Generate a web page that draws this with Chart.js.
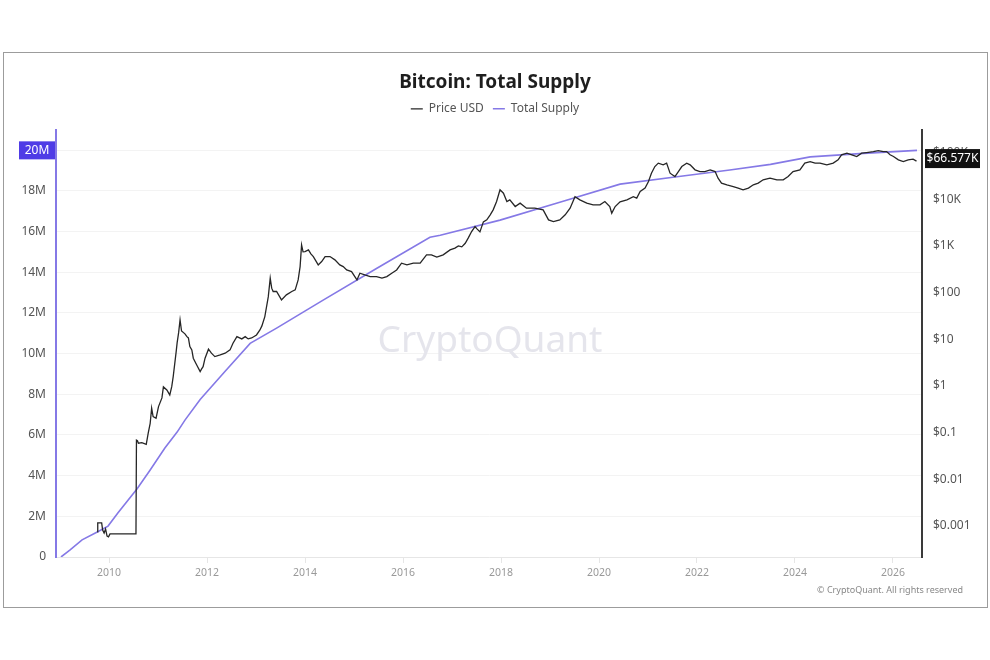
<!DOCTYPE html>
<html lang="en">
<head>
<meta charset="UTF-8">
<title>Bitcoin: Total Supply</title>
<script src="https://cdn.jsdelivr.net/npm/chart.js"></script>
<style>
  html, body { margin: 0; padding: 0; background: #fff; }
  #wrap { position: relative; width: 990px; height: 660px; }
</style>
</head>
<body>
<div id="wrap"><canvas id="supplyChart"></canvas></div>
<script>
// x values are decimal years
const priceYears = [
  2009.76, 2009.77, 2009.85, 2009.87, 2009.90, 2009.93, 2009.96, 2009.99, 2010.02, 2010.55,
  2010.56, 2010.58, 2010.60, 2010.67, 2010.76, 2010.80, 2010.84, 2010.87, 2010.90, 2010.96,
  2011.01, 2011.08, 2011.11, 2011.18, 2011.24, 2011.28, 2011.31, 2011.37, 2011.39, 2011.42,
  2011.45, 2011.48, 2011.55, 2011.59, 2011.62, 2011.65, 2011.69, 2011.72, 2011.79, 2011.86,
  2011.89, 2011.92, 2011.96, 2012.03, 2012.09, 2012.16, 2012.27, 2012.37, 2012.47, 2012.53,
  2012.61, 2012.71, 2012.78, 2012.84, 2012.91, 2013.01, 2013.08, 2013.12, 2013.18, 2013.25,
  2013.29, 2013.32, 2013.35, 2013.42, 2013.52, 2013.62, 2013.73, 2013.80, 2013.86, 2013.90,
  2013.93, 2013.96, 2014.00, 2014.07, 2014.12, 2014.17, 2014.27, 2014.34, 2014.41, 2014.51,
  2014.61, 2014.71, 2014.78, 2014.85, 2014.95, 2015.06, 2015.12, 2015.22, 2015.33, 2015.46,
  2015.57, 2015.67, 2015.77, 2015.87, 2015.97, 2016.08, 2016.21, 2016.35, 2016.48, 2016.58,
  2016.69, 2016.82, 2016.96, 2017.06, 2017.13, 2017.20, 2017.27, 2017.33, 2017.40, 2017.47,
  2017.51, 2017.57, 2017.64, 2017.71, 2017.78, 2017.84, 2017.91, 2017.98, 2018.05, 2018.12,
  2018.18, 2018.29, 2018.39, 2018.52, 2018.69, 2018.86, 2018.97, 2019.07, 2019.20, 2019.31,
  2019.41, 2019.51, 2019.61, 2019.75, 2019.88, 2020.02, 2020.12, 2020.22, 2020.26, 2020.33,
  2020.43, 2020.57, 2020.70, 2020.77, 2020.84, 2020.94, 2021.01, 2021.07, 2021.14, 2021.21,
  2021.31, 2021.38, 2021.45, 2021.55, 2021.62, 2021.69, 2021.79, 2021.86, 2021.96, 2022.06,
  2022.16, 2022.27, 2022.37, 2022.43, 2022.50, 2022.61, 2022.74, 2022.84, 2022.94, 2023.05,
  2023.15, 2023.25, 2023.35, 2023.49, 2023.63, 2023.76, 2023.86, 2023.96, 2024.10, 2024.20,
  2024.31, 2024.41, 2024.51, 2024.65, 2024.78, 2024.88, 2024.95, 2025.06, 2025.16, 2025.26,
  2025.36, 2025.46, 2025.60, 2025.70, 2025.80, 2025.87, 2025.94, 2026.01, 2026.11, 2026.21,
  2026.31, 2026.41, 2026.48
];
const priceUsd = [
  0.00074, 0.00115, 0.00115, 0.00081, 0.00070, 0.00085, 0.00060, 0.00058, 0.00067, 0.00067,
  0.069, 0.067, 0.059, 0.061, 0.056, 0.097, 0.158, 0.333, 0.219, 0.203,
  0.36, 0.553, 0.953, 0.82, 0.641, 0.966, 1.585, 5.37, 8.37, 13.7,
  26.1, 15.1, 13.1, 11.4, 10.7, 6.97, 5.93, 3.93, 2.82, 2.03,
  2.32, 2.59, 3.93, 6.14, 5.04, 4.26, 4.62, 5.04, 5.93, 8.24,
  11.4, 10.2, 11.4, 10.2, 10.7, 12.4, 15.9, 19.4, 30.7, 81.3,
  205, 125, 106, 106, 70.1, 89.8, 106, 115, 188, 363,
  1060, 752, 762, 828, 681, 596, 395, 465, 596, 596,
  506, 395, 363, 308, 284, 188, 262, 241, 222, 222,
  205, 222, 262, 308, 430, 395, 430, 430, 647, 647,
  578, 647, 828, 902, 1010, 962, 1150, 1480, 2050, 2620,
  2340, 2020, 3300, 3650, 4680, 5980, 9020, 16100, 13600, 9020,
  9800, 7050, 8330, 6500, 6500, 5980, 3650, 3360, 3650, 4680,
  6500, 11500, 9800, 8330, 7660, 7660, 9020, 7050, 5080, 7050,
  8890, 9800, 11500, 10700, 14800, 17500, 24200, 36600, 50800, 60100,
  55300, 60100, 36600, 31000, 39700, 50800, 60100, 55300, 43200, 39700,
  39700, 43200, 39700, 28600, 22400, 20600, 18900, 17500, 16100, 17500,
  20600, 22400, 26400, 28600, 26400, 26400, 31000, 39700, 43200, 60100,
  65000, 60100, 60100, 55300, 60100, 70800, 90600, 98500, 90600, 83300,
  98500, 101500, 106600, 112000, 106600, 106600, 90600, 83300, 70800, 65000,
  70800, 73300, 66577
];

const supplyYears = [
  2009.02, 2009.20, 2009.45, 2009.76, 2009.98, 2010.18, 2010.57, 2010.84, 2011.14, 2011.39,
  2011.55, 2011.86, 2012.37, 2012.88, 2013.42, 2014.37, 2015.45, 2016.55, 2016.76, 2017.98,
  2019.20, 2020.43, 2021.55, 2022.67, 2023.50, 2024.31, 2025.40, 2026.49
];
const supplyBtc = [
  0, 340000, 840000, 1230000, 1520000, 2160000, 3340000, 4280000, 5360000, 6140000,
  6730000, 7740000, 9130000, 10500000, 11250000, 12630000, 14170000, 15720000, 15820000, 16560000,
  17440000, 18330000, 18680000, 19020000, 19300000, 19670000, 19840000, 19990000
];

const yearTicks = [2010, 2012, 2014, 2016, 2018, 2020, 2022, 2024, 2026];
const supplyTicks = [0, 2e6, 4e6, 6e6, 8e6, 10e6, 12e6, 14e6, 16e6, 18e6, 20e6];
const priceTicks = [0.001, 0.01, 0.1, 1, 10, 100, 1000, 10000, 100000];

const FONT = '"Noto Sans", "Open Sans", sans-serif';
const PURPLE = '#8579e6';

function usdLabel(v) {
  if (v >= 1000) return '$' + (v / 1000) + 'K';
  return '$' + v;
}
function supplyLabel(v) {
  return v === 0 ? '0' : (v / 1e6) + 'M';
}

// white page, frame, watermark, last value tags and footer
const decorations = {
  id: 'decorations',
  beforeDraw(chart) {
    const ctx = chart.ctx;
    ctx.save();
    ctx.fillStyle = '#fff';
    ctx.fillRect(0, 0, chart.width, chart.height);
    ctx.strokeStyle = '#9c9c9c';
    ctx.lineWidth = 1;
    ctx.strokeRect(3.5, 52.5, 984, 555);
    ctx.restore();
  },
  beforeDatasetsDraw(chart) {
    const ctx = chart.ctx;
    ctx.save();
    ctx.font = '37px ' + FONT;
    ctx.fillStyle = '#e5e5ec';
    ctx.textAlign = 'center';
    ctx.textBaseline = 'middle';
    ctx.fillText('CryptoQuant', 490, 341);
    ctx.restore();
  },
  afterDraw(chart) {
    const ctx = chart.ctx;
    const ys = chart.scales.y;
    const yp = chart.scales.price;
    const lastSupply = supplyBtc[supplyBtc.length - 1];
    const lastPrice = priceUsd[priceUsd.length - 1];
    ctx.save();
    ctx.font = '12px ' + FONT;
    ctx.textBaseline = 'middle';

    let py = ys.getPixelForValue(lastSupply);
    ctx.fillStyle = '#4f3ce6';
    ctx.fillRect(19, py - 9, 36, 18);
    ctx.fillStyle = '#fff';
    ctx.textAlign = 'center';
    ctx.fillText(Math.round(lastSupply / 1e6) + 'M', 37, py);

    py = yp.getPixelForValue(lastPrice) - 2;
    ctx.fillStyle = '#111';
    ctx.fillRect(925, py - 10, 55, 19);
    ctx.fillStyle = '#fff';
    ctx.fillText('$' + (lastPrice / 1000).toFixed(3) + 'K', 952.5, py);

    ctx.font = '9px ' + FONT;
    ctx.fillStyle = '#888';
    ctx.textAlign = 'right';
    ctx.fillText('\u00A9 CryptoQuant. All rights reserved', 963, 590);
    ctx.restore();
  }
};

// a bit of room between legend and plot
const legendGap = {
  id: 'legendGap',
  beforeInit(chart) {
    const fit = chart.legend.fit;
    chart.legend.fit = function () {
      fit.bind(chart.legend)();
      this.height += 5;
    };
  }
};

Chart.defaults.font.family = FONT;

const ctx = document.getElementById('supplyChart').getContext('2d');
new Chart(ctx, {
  type: 'line',
  data: {
    datasets: [
      {
        label: 'Price USD',
        data: priceYears.map((x, i) => ({ x: x, y: priceUsd[i] })),
        yAxisID: 'price',
        borderColor: '#262626',
        backgroundColor: '#262626',
        borderWidth: 1.3,
        pointRadius: 0,
        pointStyle: 'line',
        tension: 0
      },
      {
        label: 'Total Supply',
        data: supplyYears.map((x, i) => ({ x: x, y: supplyBtc[i] })),
        yAxisID: 'y',
        borderColor: PURPLE,
        backgroundColor: PURPLE,
        borderWidth: 1.6,
        pointRadius: 0,
        pointStyle: 'line',
        tension: 0
      }
    ]
  },
  options: {
    responsive: true,
    maintainAspectRatio: false,
    animation: false,
    layout: { padding: { top: 52, bottom: 53, left: 0, right: 0 } },
    plugins: {
      title: {
        display: true,
        text: 'Bitcoin: Total Supply',
        color: '#1e1e1e',
        font: { size: 19, weight: 'bold' },
        padding: { top: 19, bottom: 0 }
      },
      legend: {
        display: true,
        labels: {
          usePointStyle: true,
          pointStyleWidth: 12,
          color: '#555',
          font: { size: 12 },
          padding: 9
        }
      },
      tooltip: { enabled: false }
    },
    scales: {
      x: {
        type: 'linear',
        min: 2008.918,
        max: 2026.592,
        afterFit(scale) { scale.height = 50; },
        afterBuildTicks(scale) { scale.ticks = yearTicks.map(v => ({ value: v })); },
        ticks: {
          callback: v => String(v),
          color: '#999',
          font: { size: 10.5 },
          padding: 4,
          maxRotation: 0
        },
        grid: { drawOnChartArea: false, tickLength: 6, color: '#e6e6e6' },
        border: { color: '#e6e6e6', width: 1 }
      },
      y: {
        type: 'linear',
        position: 'left',
        min: 0,
        max: 21e6,
        afterFit(scale) { scale.width = 56; },
        afterBuildTicks(scale) { scale.ticks = supplyTicks.map(v => ({ value: v })); },
        ticks: {
          callback: supplyLabel,
          color: '#555',
          font: { size: 12 },
          padding: 10
        },
        grid: { color: '#f3f3f3', drawTicks: false },
        border: { color: PURPLE, width: 2 }
      },
      price: {
        type: 'logarithmic',
        position: 'right',
        min: 0.000214,
        max: 312000,
        afterFit(scale) { scale.width = 68; },
        afterBuildTicks(scale) { scale.ticks = priceTicks.map(v => ({ value: v })); },
        ticks: {
          callback: usdLabel,
          color: '#555',
          font: { size: 12 },
          padding: 11
        },
        grid: { drawOnChartArea: false, drawTicks: false },
        border: { color: '#3a3a3a', width: 2 }
      }
    }
  },
  plugins: [decorations, legendGap]
});
</script>
</body>
</html>
